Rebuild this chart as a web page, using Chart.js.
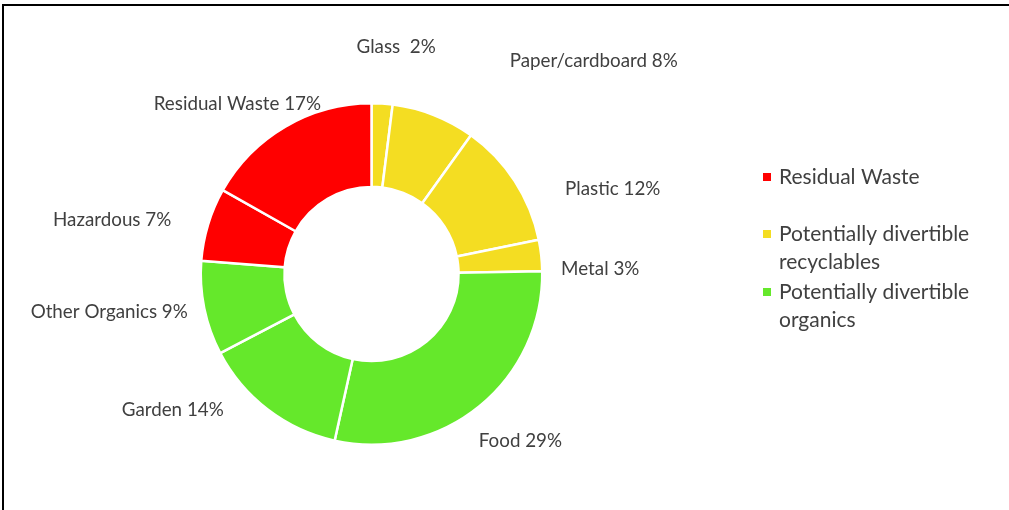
<!DOCTYPE html>
<html>
<head>
<meta charset="utf-8">
<script src="https://cdn.jsdelivr.net/npm/chart.js@4"></script>
<style>
  body { margin: 0; background: #fff; overflow: hidden; }
  #wrap { position: relative; width: 1009px; height: 510px; }
  #frame { position: absolute; left: 2px; top: 4px; width: 1100px; height: 600px;
           border-top: 2px solid #000; border-left: 2px solid #000; }
  #wasteChart { position: absolute; left: 0; top: 0; }
</style>
</head>
<body>
<div id="wrap">
  <div id="frame"></div>
  <canvas id="wasteChart" width="1009" height="510"></canvas>
</div>
<script>
// waste composition, clockwise from 12 o'clock
const categories = ['Glass', 'Paper/cardboard', 'Plastic', 'Metal', 'Food', 'Garden', 'Other Organics', 'Hazardous', 'Residual Waste'];
const shares = [2, 8, 12, 3, 29, 14, 9, 7, 17];
// which legend group each slice belongs to
const sliceGroup = [1, 1, 1, 1, 2, 2, 2, 0, 0];
const groupNames = [['Residual Waste'], ['Potentially divertible', 'recyclables'], ['Potentially divertible', 'organics']];
const groupColors = ['#FF0000', '#F4DD22', '#65E82B'];

// label nudges from the outer edge of each slice (px)
const labelNudge = [[14, -57], [160, -54], [98, 8], [59, 13], [41, 35], [-95, 0], [-95, 4], [-96, -4], [-48, -23]];

const textColor = '#404040';
const fontFamily = 'Lato, "Open Sans", sans-serif';

// slice labels "Name NN%"
const sliceLabels = {
  id: 'sliceLabels',
  afterDatasetsDraw(chart) {
    const c = chart.ctx;
    const arcs = chart.getDatasetMeta(0).data;
    c.save();
    c.font = '18.8px ' + fontFamily;
    c.fillStyle = textColor;
    c.textAlign = 'center';
    c.textBaseline = 'middle';
    arcs.forEach((arc, i) => {
      const p = arc.getProps(['x', 'y', 'startAngle', 'endAngle', 'outerRadius'], true);
      const mid = (p.startAngle + p.endAngle) / 2;
      const px = p.x + Math.cos(mid) * p.outerRadius + labelNudge[i][0];
      const py = p.y + Math.sin(mid) * p.outerRadius + labelNudge[i][1];
      const gap = i === 0 ? '  ' : ' ';
      c.fillText(categories[i] + gap + shares[i] + '%', px, py);
    });
    c.restore();
  }
};

// legend on the right, one entry per group
const groupLegend = {
  id: 'groupLegend',
  afterDraw(chart) {
    const c = chart.ctx;
    const left = 763, lineH = 28;
    const tops = [177, 234, 292];
    c.save();
    c.font = '21px ' + fontFamily;
    c.textBaseline = 'middle';
    c.textAlign = 'left';
    groupNames.forEach((lines, g) => {
      c.fillStyle = groupColors[g];
      c.fillRect(left, tops[g] - 4, 8, 8);
      c.fillStyle = textColor;
      lines.forEach((t, k) => c.fillText(t, left + 16, tops[g] + k * lineH));
    });
    c.restore();
  }
};

new Chart(document.getElementById('wasteChart'), {
  type: 'doughnut',
  data: {
    labels: categories,
    datasets: [{
      data: shares,
      backgroundColor: sliceGroup.map(g => groupColors[g]),
      borderColor: '#ffffff',
      borderWidth: 2.5
    }]
  },
  options: {
    responsive: false,
    animation: false,
    cutout: '51%',
    layout: { padding: { left: 199, right: 465, top: 102, bottom: 64 } },
    plugins: {
      legend: { display: false },
      tooltip: { enabled: false }
    }
  },
  plugins: [sliceLabels, groupLegend]
});
</script>
</body>
</html>
